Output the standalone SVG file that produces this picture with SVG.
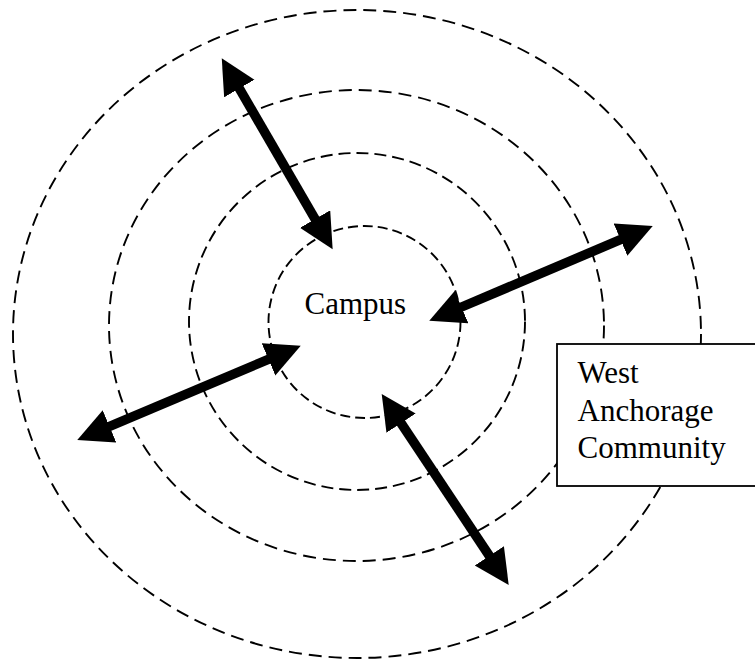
<svg xmlns="http://www.w3.org/2000/svg" width="755" height="662" viewBox="0 0 755 662">
<style>
.ring{fill:none;stroke:#000;stroke-width:1.9}
.lbl{font-family:"Liberation Serif","Times New Roman",serif;font-size:31px;fill:#000}
.arrow{fill:none;stroke:#000;stroke-width:9.5;marker-start:url(#head);marker-end:url(#head)}
</style>
<defs>
<marker id="head" markerUnits="userSpaceOnUse" markerWidth="40" markerHeight="40" refX="5" refY="17.5" orient="auto-start-reverse">
<path d="M0,0 L35,17.5 L0,35 Z" fill="#000"/>
</marker>
</defs>
<rect width="755" height="662" fill="#fff"/>
<g id="rings">
<ellipse id="ring-outer" class="ring" cx="357" cy="334" rx="344" ry="324" stroke-dasharray="13 7"/>
<ellipse id="ring-2" class="ring" cx="356.5" cy="325.5" rx="247.5" ry="235.5" stroke-dasharray="13 7"/>
<ellipse id="ring-3" class="ring" cx="357" cy="321.5" rx="168" ry="168.5" stroke-dasharray="12 6"/>
</g>
<g id="campus">
<circle class="ring" cx="364.5" cy="322" r="96" stroke-dasharray="10 5"/>
<text class="lbl" x="304.5" y="313.5">Campus</text>
</g>
<g id="connectors">
<line class="arrow" x1="236.8" y1="84.2" x2="317.6" y2="223.4"/>
<line class="arrow" x1="456.9" y1="309.0" x2="625.1" y2="237.7"/>
<line class="arrow" x1="104.9" y1="428.3" x2="273.1" y2="357.4"/>
<line class="arrow" x1="398.3" y1="419.0" x2="492.1" y2="560.0"/>
</g>
<g id="west-anchorage">
<rect x="557" y="344" width="210" height="142" fill="#fff" stroke="#000" stroke-width="1.8"/>
<text class="lbl" x="577.5" y="383">West</text>
<text class="lbl" x="577.5" y="420.5">Anchorage</text>
<text class="lbl" x="577.5" y="458">Community</text>
</g>
</svg>
